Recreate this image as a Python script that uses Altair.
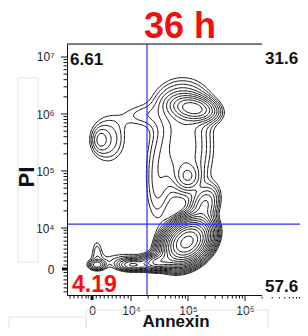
import numpy as np
import pandas as pd
import altair as alt

# ---------------- data (display units: decades, logicle-like axes) ----------------
title_text = "36 h"
quad_labels = ["6.61", "31.6", "57.6", "4.19"]
x_title = "Annexin"
y_title = "PI"

x_domain = [2.877, 6.965]
y_domain = [2.825, 7.228]

x_major = [3.316, 4, 5, 6, 7]
x_major_labels = ["0", "10⁴", "10⁵", "10⁶", "10⁷"]
y_major = [3.281, 4, 5, 6, 7]
y_major_labels = ["0", "10⁴", "10⁵", "10⁶", "10⁷"]
x_low_minor = [2.93, 3.00, 3.07, 3.14, 3.21, 3.25, 3.39, 3.46, 3.53, 3.60, 3.67, 3.74, 3.81, 3.88, 3.95]
y_low_minor = [2.88, 2.95, 3.02, 3.09, 3.16, 3.22, 3.35, 3.42, 3.49, 3.56, 3.63, 3.70, 3.77, 3.84, 3.91, 3.96]

gate_x = 4.281
gate_y = 4.070

# cell populations: centre, spread, correlation, peak height
pop_cx = [4.982, 5.10, 4.90, 3.456, 3.60, 3.404, 4.018, 4.474, 5.0, 5.298, 4.92, 4.45, 3.404, 3.895, 4.158]
pop_cy = [3.754, 6.10, 6.20, 5.544, 5.56, 3.351, 3.351, 3.404, 4.895, 4.404, 5.40, 4.70, 3.614, 3.439, 5.982]
pop_sx = [0.20, 0.22, 0.33, 0.09, 0.22, 0.09, 0.15, 0.16, 0.13, 0.15, 0.32, 0.15, 0.07, 0.45, 0.25]
pop_sy = [0.19, 0.12, 0.28, 0.13, 0.30, 0.055, 0.06, 0.08, 0.14, 0.20, 0.50, 0.50, 0.16, 0.12, 0.15]
pop_rho = [0.3, -0.25, 0.0, 0.0, 0.0, 0.0, 0.0, 0.2, 0.0, 0.3, 0.0, 0.0, 0.0, 0.0, 0.0]
pop_h = [1.0, 0.12, 0.025, 0.018, 0.02, 0.04, 0.06, 0.12, 0.035, 0.05, 0.035, 0.014, 0.012, 0.012, 0.011]

level_min = 0.009
level_ratio = 1.33

# ---------------- density grid + marching squares ----------------
gx = np.arange(x_domain[0], x_domain[1], 0.022)
gy = np.arange(y_domain[0], y_domain[1], 0.022)
XX, YY = np.meshgrid(gx, gy)
Z = np.zeros_like(XX)
for cx, cy, sx, sy, r, h in zip(pop_cx, pop_cy, pop_sx, pop_sy, pop_rho, pop_h):
    dx = (XX - cx) / sx
    dy = (YY - cy) / sy
    Q = (dx * dx - 2 * r * dx * dy + dy * dy) / (1 - r * r)
    Z += h * np.exp(-0.5 * Q)

levels = []
lv = level_min
while lv < Z.max():
    levels.append(lv)
    lv *= level_ratio


def segments(L):
    z00 = Z[:-1, :-1]; z10 = Z[:-1, 1:]; z01 = Z[1:, :-1]; z11 = Z[1:, 1:]
    X0 = np.broadcast_to(gx[:-1][None, :], z00.shape)
    X1 = np.broadcast_to(gx[1:][None, :], z00.shape)
    Y0 = np.broadcast_to(gy[:-1][:, None], z00.shape)
    Y1 = np.broadcast_to(gy[1:][:, None], z00.shape)

    def t(a, b):
        d = b - a
        d = np.where(np.abs(d) < 1e-15, 1e-15, d)
        return np.clip((L - a) / d, 0, 1)

    f0 = (z00 >= L) != (z10 >= L)
    f1 = (z10 >= L) != (z11 >= L)
    f2 = (z01 >= L) != (z11 >= L)
    f3 = (z00 >= L) != (z01 >= L)
    t0 = t(z00, z10); t1 = t(z10, z11); t2 = t(z01, z11); t3 = t(z00, z01)
    p0 = np.stack([X0 + t0 * (X1 - X0), Y0], -1)
    p1 = np.stack([X1, Y0 + t1 * (Y1 - Y0)], -1)
    p2 = np.stack([X0 + t2 * (X1 - X0), Y1], -1)
    p3 = np.stack([X0, Y0 + t3 * (Y1 - Y0)], -1)
    P = np.stack([p0, p1, p2, p3], 2).reshape(-1, 4, 2)
    F = np.stack([f0, f1, f2, f3], 2).reshape(-1, 4)
    cnt = F.sum(1)
    out = []
    two = cnt == 2
    if two.any():
        order = np.argsort(~F[two], axis=1, kind="stable")[:, :2]
        PP = P[two]
        idx = np.arange(PP.shape[0])
        out.append(np.concatenate([PP[idx, order[:, 0]], PP[idx, order[:, 1]]], 1))
    four = cnt == 4
    if four.any():
        PP = P[four]
        c = ((z00 + z10 + z01 + z11) / 4).reshape(-1)[four] >= L
        a00 = (z00 >= L).reshape(-1)[four]
        sameA = c == a00
        s1a = np.where(sameA[:, None], PP[:, 1], PP[:, 3])
        s2b = np.where(sameA[:, None], PP[:, 3], PP[:, 1])
        out.append(np.concatenate([PP[:, 0], s1a], 1))
        out.append(np.concatenate([PP[:, 2], s2b], 1))
    if out:
        return np.concatenate(out, 0)
    return np.zeros((0, 4))


segs = np.concatenate([segments(L) for L in levels], 0)
contour_df = pd.DataFrame(np.round(segs, 4), columns=["x", "y", "x2", "y2"])

# ---------------- chart ----------------
W, H = 233, 251
FONT = "Liberation Sans"
xs = alt.Scale(domain=x_domain, nice=False, zero=False)
ys = alt.Scale(domain=y_domain, nice=False, zero=False)


def label_expr(vals, labs):
    expr = "''"
    for v, l in reversed(list(zip(vals, labs))):
        expr = f"abs(datum.value - {v}) < 0.01 ? '{l}' : ({expr})"
    return expr


x_axis = alt.Axis(values=x_major, labelExpr=label_expr(x_major, x_major_labels), ticks=False, tickSize=0,
                  grid=False, title=None, domainColor="#111", labelFont=FONT, labelFontSize=12,
                  labelColor="#222", labelPadding=19, labelBaseline="alphabetic", labelFlush=False,
                  labelOverlap=False)
y_axis = alt.Axis(values=y_major, labelExpr=label_expr(y_major, y_major_labels), ticks=False, tickSize=0,
                  grid=False, title=None, domainColor="#111", labelFont=FONT, labelFontSize=12,
                  labelColor="#222", labelPadding=13, labelBaseline="middle", labelFlush=False,
                  labelOverlap=False)

contours = alt.Chart(contour_df).mark_rule(color="#111", strokeWidth=1).encode(
    x=alt.X("x:Q", scale=xs, axis=x_axis),
    y=alt.Y("y:Q", scale=ys, axis=y_axis),
    x2="x2:Q", y2="y2:Q",
)

gate_v = alt.Chart(pd.DataFrame({"v": [gate_x]})).mark_rule(color="#2a2aff", strokeWidth=1.2).encode(
    x=alt.X("v:Q", scale=xs), y=alt.value(0), y2=alt.value(H))
gate_h = alt.Chart(pd.DataFrame({"v": [gate_y]})).mark_rule(color="#2a2aff", strokeWidth=1.2).encode(
    y=alt.Y("v:Q", scale=ys), x=alt.value(0), x2=alt.value(W))

x_minor = [k + np.log10(m) for k in (4, 5, 6) for m in range(2, 10) if k + np.log10(m) < x_domain[1]] + x_low_minor
y_minor = [k + np.log10(m) for k in (4, 5, 6) for m in range(2, 10)] + y_low_minor

xt_minor = alt.Chart(pd.DataFrame({"v": x_minor})).mark_rule(color="#111").encode(
    x=alt.X("v:Q", scale=xs), y=alt.value(H), y2=alt.value(H + 3.5))
xt_major = alt.Chart(pd.DataFrame({"v": x_major[1:-1]})).mark_rule(color="#111").encode(
    x=alt.X("v:Q", scale=xs), y=alt.value(H), y2=alt.value(H + 6))
xt_zero = alt.Chart(pd.DataFrame({"v": x_major[:1]})).mark_rule(color="#111", strokeWidth=3).encode(
    x=alt.X("v:Q", scale=xs), y=alt.value(H), y2=alt.value(H + 5))
yt_minor = alt.Chart(pd.DataFrame({"v": y_minor})).mark_rule(color="#111").encode(
    y=alt.Y("v:Q", scale=ys), x=alt.value(0), x2=alt.value(-3.5))
yt_major = alt.Chart(pd.DataFrame({"v": y_major[1:]})).mark_rule(color="#111").encode(
    y=alt.Y("v:Q", scale=ys), x=alt.value(0), x2=alt.value(-6))
yt_zero = alt.Chart(pd.DataFrame({"v": y_major[:1]})).mark_rule(color="#111", strokeWidth=3).encode(
    y=alt.Y("v:Q", scale=ys), x=alt.value(0), x2=alt.value(-5))

one = pd.DataFrame({"a": [0]})
top_line = alt.Chart(one).mark_rule(color="#111").encode(x=alt.value(0), x2=alt.value(195), y=alt.value(0))

boxes = alt.Chart(one).mark_rect(fill="none", stroke="#e2e2e2", strokeWidth=1)
faint1 = boxes.encode(x=alt.value(-49), x2=alt.value(-29), y=alt.value(34), y2=alt.value(218))
faint2 = boxes.encode(x=alt.value(-58), x2=alt.value(19), y=alt.value(273), y2=alt.value(300))
faint3 = boxes.encode(x=alt.value(19), x2=alt.value(201), y=alt.value(266), y2=alt.value(300))

white = alt.Chart(one).mark_rect(fill="white")
wbox1 = white.encode(x=alt.value(195), x2=alt.value(W + 2), y=alt.value(-2), y2=alt.value(24))
wbox2 = white.encode(x=alt.value(195), x2=alt.value(W + 2), y=alt.value(231), y2=alt.value(253))


def txt(s, x, y, size, color="#111", align="left", angle=0):
    kw = dict(font=FONT, fontWeight="bold", fontSize=size, color=color, align=align, baseline="alphabetic")
    if angle:
        kw["angle"] = angle
    return alt.Chart(pd.DataFrame({"t": [s]})).mark_text(**kw).encode(
        text="t:N", x=alt.value(x), y=alt.value(y))


texts = [
    txt(title_text, 113, -6, 36, "#f01010", "center"),
    txt(quad_labels[0], 3, 21, 17),
    txt(quad_labels[1], 198, 20, 17),
    txt(quad_labels[2], 198, 248, 17),
    txt(quad_labels[3], 5, 248, 23, "#f01010"),
    txt(x_title, 109, 282.5, 17, "#111", "center"),
    txt(y_title, -33, 133, 22, "#111", "center", 270),
]

chart = alt.layer(
    faint1, faint2, faint3, contours, gate_v, gate_h,
    xt_minor, xt_major, xt_zero, yt_minor, yt_major, yt_zero, top_line,
    wbox1, wbox2, *texts,
).properties(
    width=W, height=H,
    autosize=alt.AutoSizeParams(type="none"),
    padding={"left": 59, "top": 36, "right": 0, "bottom": 33},
).configure_view(stroke=None).configure(background="white")

chart.save("out.html", embed_options={"renderer": "svg", "actions": False})
